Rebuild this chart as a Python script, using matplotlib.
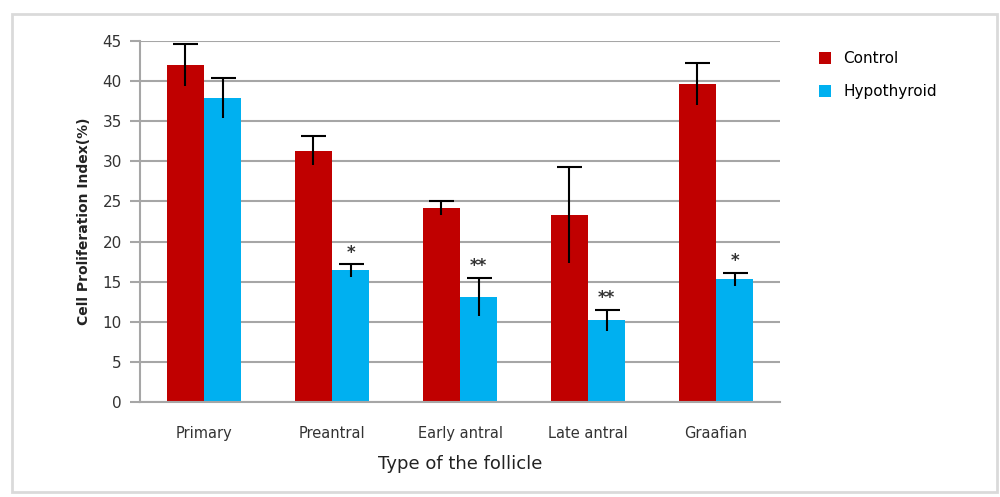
import matplotlib.pyplot as plt
import numpy as np
from matplotlib.patches import Rectangle

follicles = ['Primary', 'Preantral', 'Early antral', 'Late antral', 'Graafian']
control = [42.0, 31.3, 24.2, 23.3, 39.6]
control_err = [2.6, 1.8, 0.9, 6.0, 2.6]
hypo = [37.9, 16.4, 13.1, 10.2, 15.3]
hypo_err = [2.5, 0.8, 2.4, 1.3, 0.8]
hypo_marks = ['', '*', '**', '**', '*']

red = '#C00000'
blue = '#00B0F0'
grid = '#A6A6A6'

fig = plt.figure(figsize=(10, 4.97), dpi=100)
fig.patches.append(Rectangle((0.012, 0.01), 0.985, 0.962, transform=fig.transFigure,
                             fill=False, edgecolor='#DADADA', linewidth=2))
ax = fig.add_axes([0.14, 0.191, 0.64, 0.7265])

x = np.arange(len(follicles))
w = 0.29
ax.bar(x - w / 2, control, w, color=red, label='Control', zorder=2)
ax.bar(x + w / 2, hypo, w, color=blue, label='Hypothyroid', zorder=2)

for xs, vals, errs in [(x - w / 2, control, control_err), (x + w / 2, hypo, hypo_err)]:
    eb = ax.errorbar(xs, vals, yerr=errs, fmt='none', ecolor='black',
                     elinewidth=1.5, capsize=9, capthick=1.5, zorder=3)
    eb[1][0].set_visible(False)  # only the top cap

for xi, v, e, m in zip(x + w / 2, hypo, hypo_err, hypo_marks):
    if m:
        ax.text(xi, v + e + 0.3, m, ha='center', va='bottom', fontsize=12,
                color='#333333', fontweight='bold')

ax.set_xlim(-0.5, 4.5)
ax.set_ylim(0, 45)
ax.set_yticks(np.arange(0, 46, 5))
ax.yaxis.grid(True, color=grid, linewidth=1.5, zorder=0)
ax.set_axisbelow(True)
for s in ['top', 'right']:
    ax.spines[s].set_visible(False)
for s in ['left', 'bottom']:
    ax.spines[s].set_color(grid)
    ax.spines[s].set_linewidth(1.5)
ax.tick_params(axis='y', direction='out', length=7, width=1.5, color=grid,
               labelsize=11, labelcolor='#333333', pad=6)
ax.tick_params(axis='x', length=0, labelsize=10.5, labelcolor='#333333', pad=17)
ax.set_xticks(x)
ax.set_xticklabels(follicles)
ax.set_xlabel('Type of the follicle', fontsize=13, color='#222222', labelpad=10)
ax.set_ylabel('Cell Proliferation Index(%)', fontsize=10, fontweight='bold',
              color='#222222', labelpad=8)

ax.legend(loc='upper left', bbox_to_anchor=(0.805, 0.925), bbox_transform=fig.transFigure,
          frameon=False, fontsize=11, handlelength=0.8, handleheight=0.8,
          labelspacing=1.2, handletextpad=0.8)

fig.savefig('out.png', dpi=100)
